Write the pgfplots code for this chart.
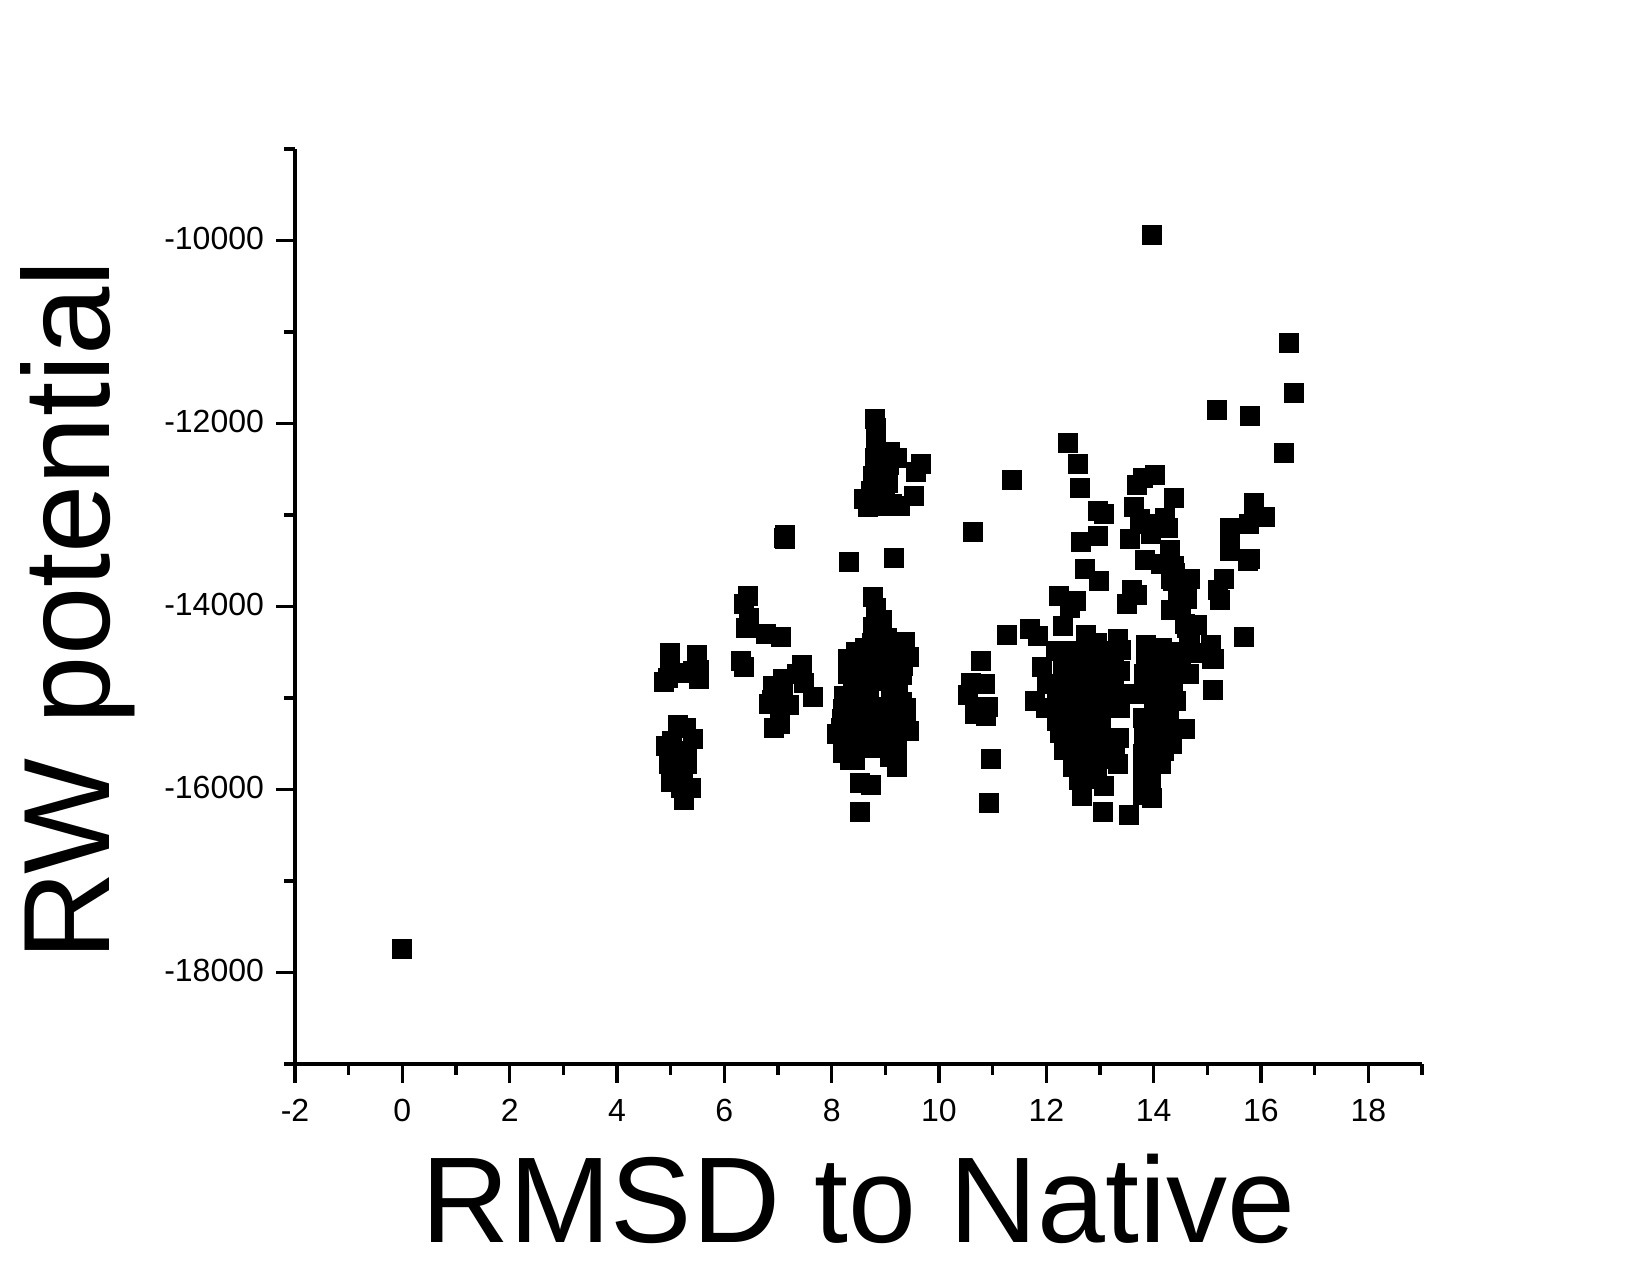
\documentclass[border=0pt]{standalone}
\usepackage{fontspec}
\setmainfont{Liberation Sans}
\usepackage{pgfplots}
\pgfplotsset{compat=1.18}
\pgfplotstableread{
x y
0 -17738
13.97 -9943
16.52 -11118
16.61 -11661
15.17 -11846
15.79 -11912
16.42 -12316
4.87 -14827
4.98 -14510
5.48 -14532
4.98 -14576
5.52 -14688
5.52 -14794
5.16 -14725
5.41 -14703
4.95 -14780
5.13 -15296
5.28 -15322
5.03 -15467
4.92 -15525
5.41 -15449
5.31 -15576
4.97 -15722
5.31 -15722
5.00 -15922
5.37 -15984
5.19 -15984
5.25 -16115
5.22 -15795
5.16 -15600
6.43 -13888
6.37 -13975
6.46 -14121
6.41 -14230
6.77 -14303
7.06 -14336
6.30 -14598
6.37 -14663
7.45 -14641
7.35 -14739
7.09 -14794
6.91 -14870
7.48 -14830
6.89 -15023
7.20 -15078
6.83 -15067
7.04 -15285
6.93 -15329
7.65 -14991
7.10 -14950
8.76 -13899
8.82 -14019
8.83 -14103
8.93 -14150
8.77 -14223
9.02 -14339
8.62 -14448
9.36 -14390
9.43 -14547
8.31 -14576
8.31 -14739
9.33 -14648
9.30 -14747
8.93 -14485
9.12 -14557
8.59 -14667
8.93 -14812
9.24 -14830
8.23 -14980
8.56 -14921
8.21 -15122
8.19 -15231
8.17 -15322
8.10 -15394
8.21 -15602
8.34 -15678
8.44 -15678
8.50 -15504
8.62 -15140
8.44 -15285
8.62 -15322
9.12 -15031
9.31 -15038
9.38 -15103
8.99 -15140
9.39 -15285
9.43 -15358
9.12 -15322
9.10 -15540
9.21 -15540
9.09 -15649
9.21 -15755
8.52 -15929
8.73 -15951
8.52 -16246
8.37 -15576
8.75 -15540
8.93 -15467
8.44 -15031
8.68 -14849
8.40 -14900
8.40 -15150
8.55 -15050
8.70 -15000
8.70 -15200
8.85 -15300
8.85 -15450
8.62 -15500
8.35 -15400
8.50 -14750
8.75 -14600
8.75 -14400
9.05 -14700
9.10 -14900
9.20 -15150
9.10 -15200
8.55 -14550
8.45 -14500
8.95 -14650
8.80 -14750
9.20 -14450
9.05 -15450
8.90 -15100
8.80 -11945
8.82 -12046
8.82 -12156
9.09 -12312
8.80 -12381
9.67 -12447
9.57 -12530
8.94 -12520
8.77 -12574
8.94 -12629
8.74 -12738
9.54 -12792
8.60 -12829
8.68 -12913
9.01 -12902
9.27 -12902
8.94 -12410
9.21 -12374
9.05 -12500
9.05 -12650
8.90 -12500
8.85 -12700
9.00 -12780
9.07 -12450
9.13 -12880
8.85 -12850
7.11 -13255
7.13 -13266
7.12 -13220
8.32 -13517
9.16 -13473
10.63 -13189
11.35 -12611
10.79 -14598
10.60 -14838
10.85 -14849
10.54 -14969
10.92 -15100
10.67 -15169
10.88 -15198
10.97 -15667
10.93 -16148
12.40 -12207
12.58 -12447
12.62 -12709
12.96 -12960
13.07 -12993
12.64 -13298
12.96 -13233
12.72 -13593
12.98 -13724
14.03 -12567
13.79 -12600
13.68 -12676
14.37 -12818
13.63 -12916
13.74 -13047
14.21 -13036
14.26 -13138
13.93 -13102
13.95 -13204
13.56 -13266
14.31 -13386
13.84 -13495
14.16 -13539
14.39 -13629
14.53 -13709
14.36 -13720
14.57 -13920
14.45 -13920
14.33 -14041
14.59 -14193
14.81 -14204
14.66 -14303
15.06 -14423
15.12 -14576
13.60 -13822
13.68 -13877
13.50 -13975
15.86 -12872
15.86 -12974
16.08 -13025
15.78 -13102
15.42 -13138
15.42 -13338
15.42 -13397
15.80 -13484
15.76 -13502
15.30 -13702
15.20 -13822
15.24 -13931
15.68 -14335
15.11 -14914
15.09 -14576
12.24 -13888
12.55 -13939
12.44 -14012
13.05 -16246
13.53 -16279
12.30 -14212
12.73 -14314
12.94 -14401
12.18 -14485
11.92 -14663
12.01 -14849
11.79 -15034
11.99 -15103
12.20 -15249
12.26 -15376
12.33 -15569
12.50 -15758
12.61 -15897
12.66 -16071
13.07 -15958
13.35 -15431
13.27 -15631
13.33 -15722
13.38 -15103
13.45 -14958
13.38 -14703
13.26 -14485
11.70 -14248
11.84 -14321
11.27 -14314
13.33 -14357
13.39 -14477
12.35 -14500
12.55 -14480
12.75 -14510
12.95 -14490
13.12 -14520
12.30 -14680
12.50 -14700
12.70 -14690
12.90 -14710
13.12 -14690
12.25 -14880
12.45 -14900
12.65 -14890
12.85 -14910
13.10 -14880
13.25 -14850
12.20 -15060
12.40 -15100
12.60 -15090
12.80 -15110
13.00 -15080
13.20 -15050
12.45 -15270
12.65 -15300
12.85 -15280
13.02 -15290
12.50 -15480
12.70 -15500
12.90 -15490
13.10 -15470
12.60 -15650
12.80 -15690
13.00 -15670
13.12 -15620
12.80 -15880
12.95 -15850
13.85 -14423
13.85 -14557
13.82 -14739
13.75 -14958
13.79 -15213
13.82 -15431
13.80 -15613
13.79 -15758
13.79 -15904
13.80 -16060
13.96 -16093
14.13 -15722
14.34 -15504
14.59 -15340
14.42 -15034
14.35 -14932
14.28 -15213
14.65 -14739
14.72 -14503
14.06 -14849
14.19 -14630
14.43 -14594
14.00 -15322
14.06 -15103
14.19 -15576
13.94 -15868
14.68 -14339
14.62 -14503
14.62 -14230
14.51 -14041
14.62 -13921
14.68 -13702
14.32 -13702
14.37 -13557
14.14 -13539
14.20 -14930
14.00 -15000
14.20 -15400
14.05 -15500
14.15 -14450
14.35 -14500
14.50 -14500
14.50 -14700
14.30 -14750
14.05 -14550
14.00 -14700
14.20 -15050
14.00 -15200
14.15 -15300
13.95 -15450
14.05 -15650
13.95 -15700
14.35 -14820
14.10 -15150
}\pts
\begin{document}
\begin{tikzpicture}[x=1pt,y=1pt]
\useasboundingbox (0,0) rectangle (825,637.5);
\begin{axis}[
  at={(147.5pt,105.5pt)}, anchor=south west,
  scale only axis, width=563.5pt, height=457.5pt,
  xmin=-2, xmax=19, ymin=-19000, ymax=-9000,
  scaled y ticks=false, scaled x ticks=false,
  axis x line*=bottom, axis y line*=left,
  axis line style={-, line width=1.7pt},
  tick align=outside, tick pos=left,
  xtick={-2,0,2,4,6,8,10,12,14,16,18},
  xticklabels={-2,0,2,4,6,8,10,12,14,16,18},
  ytick={-18000,-16000,-14000,-12000,-10000},
  yticklabels={-18000,-16000,-14000,-12000,-10000},
  minor xtick={-1,1,3,5,7,9,11,13,15,17,19},
  minor ytick={-19000,-17000,-15000,-13000,-11000,-9000},
  major tick length=9.5pt, minor tick length=5.5pt,
  every tick/.style={black, line width=1.7pt},
  tick label style={font=\fontsize{16}{18}\selectfont},
  xticklabel style={yshift=-4.5pt},
  yticklabel style={xshift=-2.5pt,yshift=1pt},
  xlabel={RMSD to Native}, ylabel={RW potential},
  xlabel style={at={(axis description cs:0.5,-0.195)},anchor=base,font=\fontsize{61}{66}\selectfont},
  ylabel style={at={(axis description cs:-0.165,0.496)},anchor=base,font=\fontsize{61.4}{66}\selectfont},
  clip=false,
]
\addplot[only marks, mark=square*, mark size=4.75pt, mark options={fill=black,draw=none}] table[x=x,y=y] {\pts};
\end{axis}
\end{tikzpicture}
\end{document}
